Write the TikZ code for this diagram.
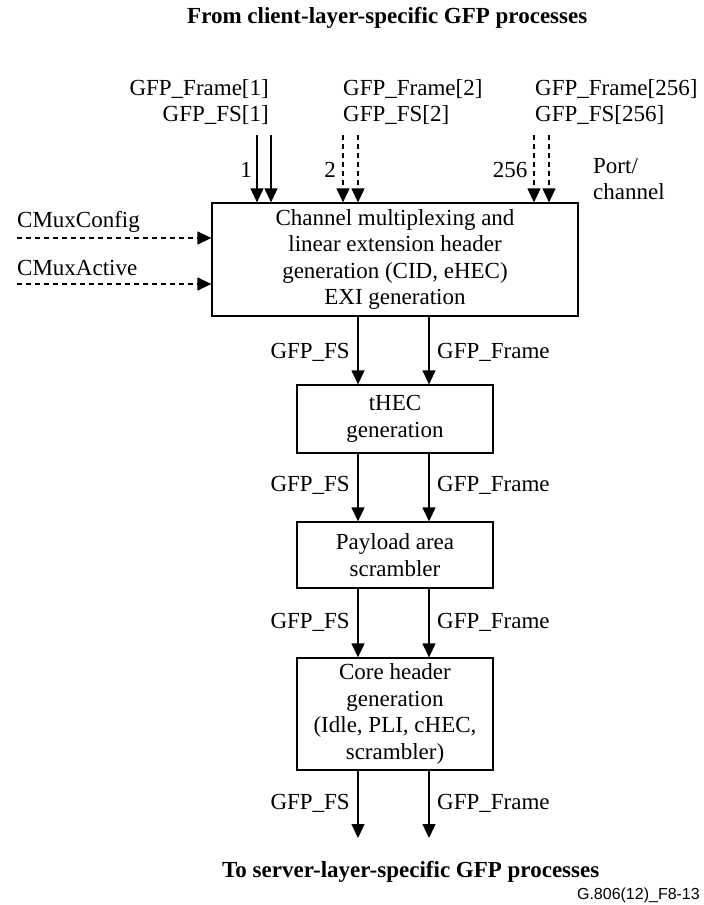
\documentclass[tikz,border=0pt]{standalone}
\usepackage{fontspec}
\setmainfont{Liberation Serif}
\setsansfont{Liberation Sans}
\usetikzlibrary{arrows.meta}
\begin{document}
\begin{tikzpicture}[x=1pt,y=-1pt,
  txt/.style={inner sep=0pt,font=\fontsize{23}{26.5}\selectfont},
  blk/.style={draw,line width=1.3pt,inner sep=0pt,align=center,font=\fontsize{23}{26.5}\selectfont},
  flow/.style={line width=1.3pt,-{Triangle[width=13pt,length=14pt]}},
  dflow/.style={flow,dash pattern=on 5pt off 4pt}]
\useasboundingbox (0,0) rectangle (704,905);
% titles
\node[txt,anchor=west,font=\fontsize{23}{26.5}\selectfont\bfseries] (ttop) at (187,18) {From client-layer-specific GFP processes};
\node[txt,anchor=west,font=\fontsize{23}{26.5}\selectfont\bfseries] (tbot) at (222,872) {To server-layer-specific GFP processes};
\node[inner sep=0pt,anchor=east,font=\sffamily\fontsize{16}{18}\selectfont] (fig) at (700,895) {G.806(12)\_F8-13};
% boxes
\node[blk,minimum width=366pt,minimum height=113pt] (mux) at (395,259.5)
  {Channel multiplexing and\\linear extension header\\generation (CID, eHEC)\\EXI generation};
\node[blk,minimum width=196pt,minimum height=68pt] (thec) at (395,419) {tHEC\\generation};
\node[blk,minimum width=196pt,minimum height=66pt] (pay) at (395,555) {Payload area\\scrambler};
\node[blk,minimum width=196pt,minimum height=112pt] (core) at (395,714)
  {Core header\\generation\\(Idle, PLI, cHEC,\\scrambler)};
% top inputs
\node[txt,anchor=east,align=right] (in1) at (269,102) {GFP\_Frame[1]\\GFP\_FS[1]};
\node[txt,anchor=west,align=left] (in2) at (343,102) {GFP\_Frame[2]\\GFP\_FS[2]};
\node[txt,anchor=west,align=left] (in3) at (535,102) {GFP\_Frame[256]\\GFP\_FS[256]};
\coordinate (a1) at (257,135);
\coordinate (a2) at (271,135);
\coordinate (b1) at (343,135);
\coordinate (b2) at (358,135);
\coordinate (c1) at (534,135);
\coordinate (c2) at (549,135);
\draw[flow] (a1) -- (a1 |- mux.north);
\draw[flow] (a2) -- (a2 |- mux.north);
\draw[dflow] (b1) -- (b1 |- mux.north);
\draw[dflow] (b2) -- (b2 |- mux.north);
\draw[dflow] (c1) -- (c1 |- mux.north);
\draw[dflow] (c2) -- (c2 |- mux.north);
\node[txt] (p1) at (246,170) {1};
\node[txt] (p2) at (330,170) {2};
\node[txt] (p3) at (510,170) {256};
\node[txt,anchor=west,align=left] (port) at (593,179) {Port/\\channel};
% control inputs
\node[txt,anchor=west] (cfg) at (17,222) {CMuxConfig};
\node[txt,anchor=west] (act) at (17,268) {CMuxActive};
\coordinate (cfgs) at (17,238);
\coordinate (acts) at (17,284);
\draw[dflow] (cfgs) -- (cfgs -| mux.west);
\draw[dflow] (acts) -- (acts -| mux.west);
% vertical flows
\coordinate (L) at (358,0);
\coordinate (R) at (429,0);
\draw[flow] (L |- mux.south) -- (L |- thec.north);
\draw[flow] (R |- mux.south) -- (R |- thec.north);
\draw[flow] (L |- thec.south) -- (L |- pay.north);
\draw[flow] (R |- thec.south) -- (R |- pay.north);
\draw[flow] (L |- pay.south) -- (L |- core.north);
\draw[flow] (R |- pay.south) -- (R |- core.north);
\coordinate (oL) at (358,838);
\coordinate (oR) at (429,838);
\draw[flow] (L |- core.south) -- (oL);
\draw[flow] (R |- core.south) -- (oR);
% flow labels
\node[txt,anchor=east] (fs1) at (350,352) {GFP\_FS};
\node[txt,anchor=west] (fr1) at (437,352) {GFP\_Frame};
\node[txt,anchor=east] (fs2) at (350,485) {GFP\_FS};
\node[txt,anchor=west] (fr2) at (437,485) {GFP\_Frame};
\node[txt,anchor=east] (fs3) at (350,622) {GFP\_FS};
\node[txt,anchor=west] (fr3) at (437,622) {GFP\_Frame};
\node[txt,anchor=east] (fs4) at (350,803) {GFP\_FS};
\node[txt,anchor=west] (fr4) at (437,803) {GFP\_Frame};
\end{tikzpicture}
\end{document}
